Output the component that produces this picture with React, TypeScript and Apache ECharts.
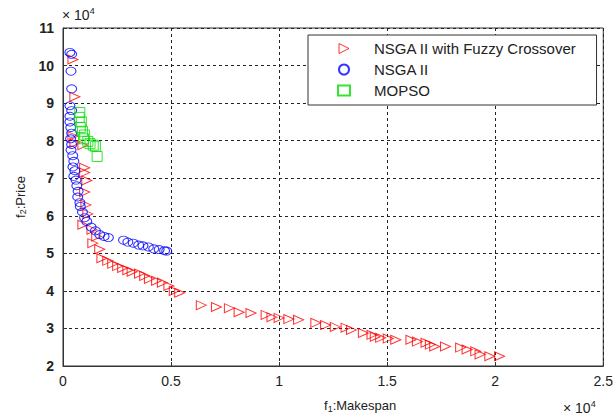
import React, { useEffect, useRef } from "react";
import * as echarts from "echarts";

// values: f1 (x 10^4), f2 (x 10^4)
const fuzzyF1 = [0.046, 0.055, 0.046, 0.055, 0.092, 0.1, 0.1, 0.11, 0.1, 0.106, 0.115, 0.092, 0.134, 0.156, 0.138, 0.17, 0.18, 0.207, 0.23, 0.253, 0.276, 0.3, 0.32, 0.354, 0.378, 0.4, 0.433, 0.46, 0.49, 0.515, 0.54, 0.64, 0.71, 0.77, 0.815, 0.87, 0.94, 0.967, 1.0, 1.045, 1.09, 1.17, 1.215, 1.26, 1.31, 1.335, 1.39, 1.43, 1.445, 1.47, 1.505, 1.54, 1.61, 1.64, 1.68, 1.7, 1.72, 1.77, 1.84, 1.87, 1.91, 1.93, 1.975, 2.02];
const fuzzyF2 = [10.16, 9.17, 8.12, 7.94, 7.88, 7.28, 7.15, 6.94, 6.63, 6.29, 6.05, 5.76, 5.63, 5.45, 5.27, 5.11, 4.87, 4.8, 4.72, 4.66, 4.61, 4.55, 4.51, 4.46, 4.4, 4.32, 4.27, 4.22, 4.13, 4.0, 3.95, 3.62, 3.57, 3.54, 3.43, 3.41, 3.36, 3.3, 3.28, 3.25, 3.23, 3.15, 3.09, 3.04, 3.02, 2.96, 2.88, 2.83, 2.78, 2.75, 2.73, 2.7, 2.7, 2.65, 2.62, 2.57, 2.52, 2.52, 2.49, 2.44, 2.39, 2.31, 2.26, 2.26];

const nsgaF1 = [0.032, 0.04, 0.037, 0.04, 0.032, 0.04, 0.032, 0.032, 0.036, 0.04, 0.035, 0.04, 0.037, 0.045, 0.05, 0.046, 0.055, 0.05, 0.06, 0.064, 0.07, 0.068, 0.078, 0.08, 0.09, 0.1, 0.11, 0.13, 0.15, 0.17, 0.19, 0.21, 0.28, 0.3, 0.325, 0.35, 0.37, 0.395, 0.42, 0.445, 0.47, 0.48];
const nsgaF2 = [10.35, 10.3, 9.85, 9.38, 8.93, 8.8, 8.65, 8.5, 8.35, 8.2, 8.05, 7.9, 7.75, 7.6, 7.45, 7.3, 7.2, 7.05, 6.95, 6.8, 6.65, 6.5, 6.35, 6.25, 6.1, 5.95, 5.85, 5.7, 5.6, 5.5, 5.45, 5.42, 5.35, 5.3, 5.27, 5.22, 5.2, 5.17, 5.12, 5.1, 5.07, 5.06];

const mopsoF1 = [0.078, 0.075, 0.085, 0.08, 0.09, 0.1, 0.095, 0.115, 0.125, 0.14, 0.15, 0.158];
const mopsoF2 = [8.75, 8.62, 8.5, 8.35, 8.25, 8.15, 8.05, 7.98, 7.92, 7.88, 7.85, 7.58];

const seriesNames = ["NSGA II with Fuzzy Crossover", "NSGA II", "MOPSO"];

const zip = (a: number[], b: number[]) => a.map((v, i) => [v, b[i]]);

export default function App() {
  const ref = useRef<HTMLDivElement>(null);
  useEffect(() => {
    if (!ref.current) return;
    const chart = echarts.init(ref.current, undefined, { renderer: "svg" });
    const font = "Arial, 'Liberation Sans', sans-serif";
    const grid = { left: 63, top: 28, right: 10, bottom: 46 };
    const subRich = {
      f: { fontSize: 13, color: "#222", fontFamily: font },
      sub: { fontSize: 9, color: "#222", fontFamily: font, verticalAlign: "bottom", padding: [6, 0, 0, 0] },
    };
    const supStyle = {
      text: "× 10{sup|4}",
      fontSize: 14,
      fill: "#222",
      fontFamily: font,
      rich: { sup: { fontSize: 9, fill: "#222", verticalAlign: "top", padding: [0, 0, 8, 0] } },
    };
    chart.setOption({
      animation: false,
      backgroundColor: "#ffffff",
      textStyle: { fontFamily: font },
      grid: { ...grid, show: true, borderColor: "#333", borderWidth: 1, backgroundColor: "#fff" },
      legend: {
        orient: "vertical",
        left: 308,
        top: 35,
        padding: [6, 20, 7, 29],
        itemGap: 6,
        itemWidth: 12,
        itemHeight: 10,
        borderColor: "#333",
        borderWidth: 1,
        backgroundColor: "#fff",
        textStyle: { fontSize: 15, color: "#222", fontFamily: font, padding: [0, 0, 0, 19] },
        data: [
          { name: seriesNames[0], icon: "path://M0,0 L10,5 L0,10 Z", itemStyle: { color: "rgba(0,0,0,0)", borderColor: "#ff0000", borderWidth: 1 } },
          { name: seriesNames[1] },
          { name: seriesNames[2] },
        ],
      },
      xAxis: {
        type: "value",
        min: 0,
        max: 2.5,
        interval: 0.5,
        name: "{f|f}{sub|1}{f|:Makespan}",
        nameLocation: "middle",
        nameGap: 32,
        nameTextStyle: { rich: subRich, padding: [0, 0, 0, 54] },
        axisLine: { show: true, lineStyle: { color: "#333" } },
        axisTick: { show: true, inside: true, length: 4, lineStyle: { color: "#333" } },
        axisLabel: { fontSize: 14, color: "#222", margin: 8, fontFamily: font },
        splitLine: { show: true, lineStyle: { color: "#222", type: [3, 3], width: 1 } },
      },
      yAxis: {
        type: "value",
        min: 2,
        max: 11,
        interval: 1,
        name: "{f|f}{sub|2}{f|:Price}",
        nameLocation: "middle",
        nameGap: 27,
        nameTextStyle: { rich: subRich },
        axisLine: { show: true, lineStyle: { color: "#333" } },
        axisTick: { show: true, inside: true, length: 4, lineStyle: { color: "#333" } },
        axisLabel: { fontSize: 14, color: "#222", margin: 9, fontFamily: font, fontWeight: "bold" },
        splitLine: { show: true, lineStyle: { color: "#222", type: [3, 3], width: 1 } },
      },
      graphic: [
        { type: "text", left: 62, top: 6, style: supStyle },
        { type: "text", left: 563, top: 399, style: supStyle },
      ],
      series: [
        {
          name: seriesNames[0],
          type: "scatter",
          data: zip(fuzzyF1, fuzzyF2),
          symbol: "triangle",
          symbolRotate: -90,
          symbolSize: [9, 10],
          itemStyle: { color: "rgba(0,0,0,0)", borderColor: "#ff0000", borderWidth: 1 },
          z: 2,
        },
        {
          name: seriesNames[1],
          type: "scatter",
          data: zip(nsgaF1, nsgaF2),
          symbol: "circle",
          symbolSize: [10, 8],
          itemStyle: { color: "rgba(0,0,0,0)", borderColor: "#0000ff", borderWidth: 1 },
          z: 3,
        },
        {
          name: seriesNames[2],
          type: "scatter",
          data: zip(mopsoF1, mopsoF2),
          symbol: "rect",
          symbolSize: 10,
          itemStyle: { color: "rgba(0,0,0,0)", borderColor: "#00dd00", borderWidth: 1 },
          z: 4,
        },
      ],
    });
    return () => chart.dispose();
  }, []);
  return <div ref={ref} style={{ width: 616, height: 418, position: "absolute", left: 0, top: 0 }} />;
}
